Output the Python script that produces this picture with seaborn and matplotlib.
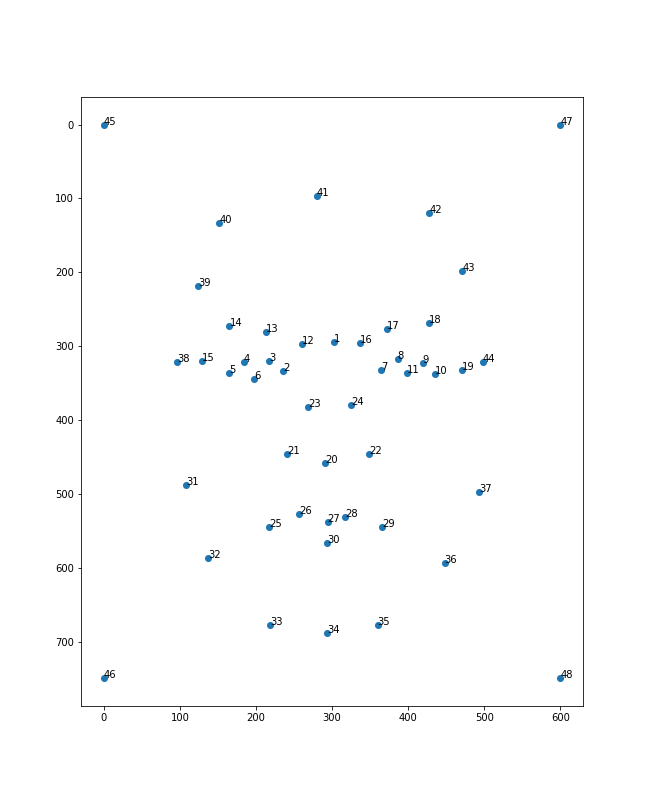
import matplotlib
matplotlib.use("Agg")
import matplotlib.pyplot as plt
import seaborn as sns
import pandas as pd

labels = list(range(1, 49))
xs = [302, 236, 217, 184, 165, 198, 364, 386, 419, 435,
      398, 260, 213, 165, 129, 337, 372, 427, 471, 291,
      241, 349, 268, 325, 217, 257, 294, 317, 366, 293,
      108, 137, 219, 293, 360, 448, 493, 96, 124, 152,
      280, 428, 471, 498, 0, 0, 600, 600]
ys = [295, 334, 320, 322, 337, 344, 332, 317, 323, 338,
      337, 297, 281, 273, 320, 296, 277, 269, 333, 458,
      446, 446, 382, 380, 545, 528, 538, 532, 545, 566,
      488, 587, 678, 688, 677, 594, 498, 322, 219, 133,
      97, 120, 198, 322, 0, 750, 0, 750]

df = pd.DataFrame({"x": xs, "y": ys, "label": labels})

fig = plt.figure(figsize=(9.0, 807 / 72), dpi=72)
ax = fig.add_axes([0.125, 0.125, 0.775, 0.755])
sns.scatterplot(data=df, x="x", y="y", ax=ax, color="#1f77b4", s=50, linewidth=0)
for _, r in df.iterrows():
    ax.annotate(str(r["label"]), (r["x"], r["y"]), fontsize=10)
ax.invert_yaxis()
ax.set_xlabel("")
ax.set_ylabel("")
fig.savefig("out.png", dpi=72)
